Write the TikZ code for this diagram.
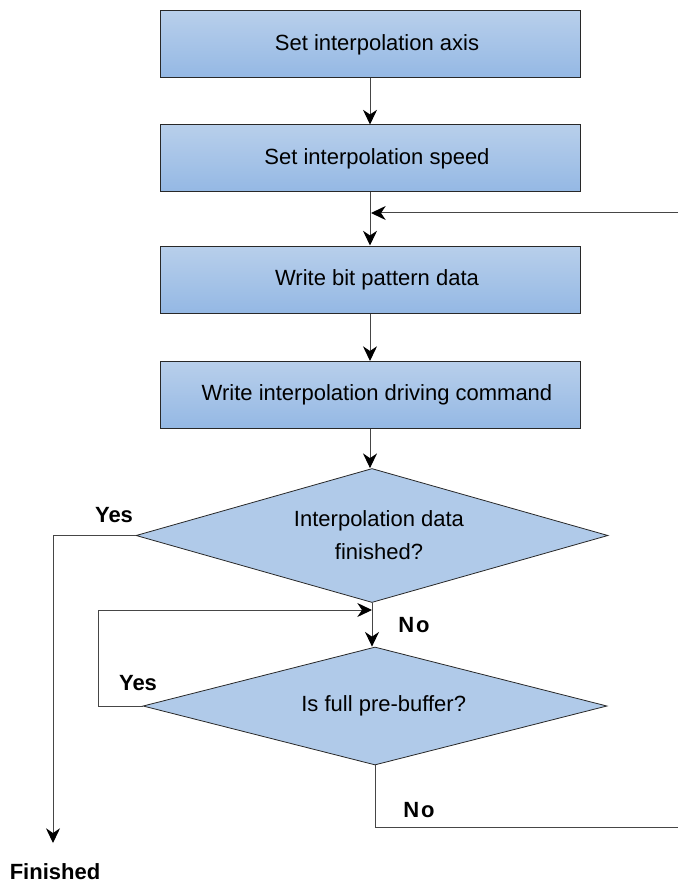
\documentclass[tikz,border=0pt]{standalone}
\usepackage{fontspec}
\setmainfont{Liberation Sans}
\usetikzlibrary{shapes.geometric,arrows.meta}
\definecolor{linec}{RGB}{70,70,70}
\definecolor{boxline}{RGB}{40,40,40}
\definecolor{boxtop}{RGB}{184,207,235}
\definecolor{boxbot}{RGB}{148,184,228}
\definecolor{diafill}{RGB}{176,202,233}
\tikzset{
  every node/.style={font=\fontsize{16.5}{24.75}\selectfont},
  procbox/.style={draw=boxline, line width=0.75pt, top color=boxtop, bottom color=boxbot,
    minimum width=315pt, minimum height=50.25pt, inner sep=0pt},
  decision/.style={diamond, draw=boxline, line width=0.6pt, fill=diafill, inner sep=0pt, align=center},
  conn/.style={draw=linec, line width=0.75pt},
  arr/.style={conn, -{Stealth[length=11pt,width=10.5pt,inset=3.5pt,color=black]}},
  lbl/.style={font=\fontsize{16.5}{20}\selectfont\bfseries},
}
\begin{document}
\begin{tikzpicture}[x=0.75pt,y=-0.75pt]
\useasboundingbox (0,0) rectangle (678,884);
% boxes
\node[procbox] (b1) at (370,44.5) {\hspace*{10.5pt}Set interpolation axis};
\node[procbox] (b2) at (370,158.5) {\hspace*{10.5pt}Set interpolation speed};
\node[procbox] (b3) at (370,279.5) {\hspace*{10.5pt}Write bit pattern data};
\node[procbox] (b4) at (370,395) {\hspace*{10.5pt}Write interpolation driving command};
% decisions
\node[decision, aspect=3.5, minimum width=354pt, minimum height=100.5pt] (d1) at (372,535.5)
  {\hspace*{10.5pt}Interpolation data\\\hspace*{10.5pt}finished?};
\node[decision, aspect=3.9, minimum width=348pt, minimum height=88.5pt] (d2) at (375,706)
  {\hspace*{13pt}Is full pre-buffer?};
% labels
\node[lbl] (yes1) at (114,515) {Yes};
\node[lbl] (no1) at (414,625) {N\kern1.5pt o};
\node[lbl] (yes2) at (138,683) {Yes};
\node[lbl] (no2) at (419,810) {N\kern1.5pt o};
\node[lbl] (fin) at (55,872) {Finished};
% coordinates
\coordinate (e1) at (678,213);
\coordinate (j1) at (371,213);
\coordinate (c1) at (53,535.5);
\coordinate (c2) at (53,843);
\coordinate (l1) at (98,706);
\coordinate (l2) at (98,610);
\coordinate (l3) at (372,610);
\coordinate (n1) at (375,827);
\coordinate (n2) at (678,827);
% connectors
\draw[arr] (b1.south) -- (b2.north);
\draw[arr] (b2.south) -- (b3.north);
\draw[arr] (e1) -- (j1);
\draw[arr] (b3.south) -- (b4.north);
\draw[arr] (b4.south) -- (b4.south |- d1.north);
\draw[arr] (d1.west) -- (c1) -- (c2);
\draw[arr] (d1.south) -- (d1.south |- d2.north);
\draw[arr] (d2.west) -- (l1) -- (l2) -- (l3);
\draw[conn] (d2.south) -- (n1) -- (n2);
\end{tikzpicture}
\end{document}
